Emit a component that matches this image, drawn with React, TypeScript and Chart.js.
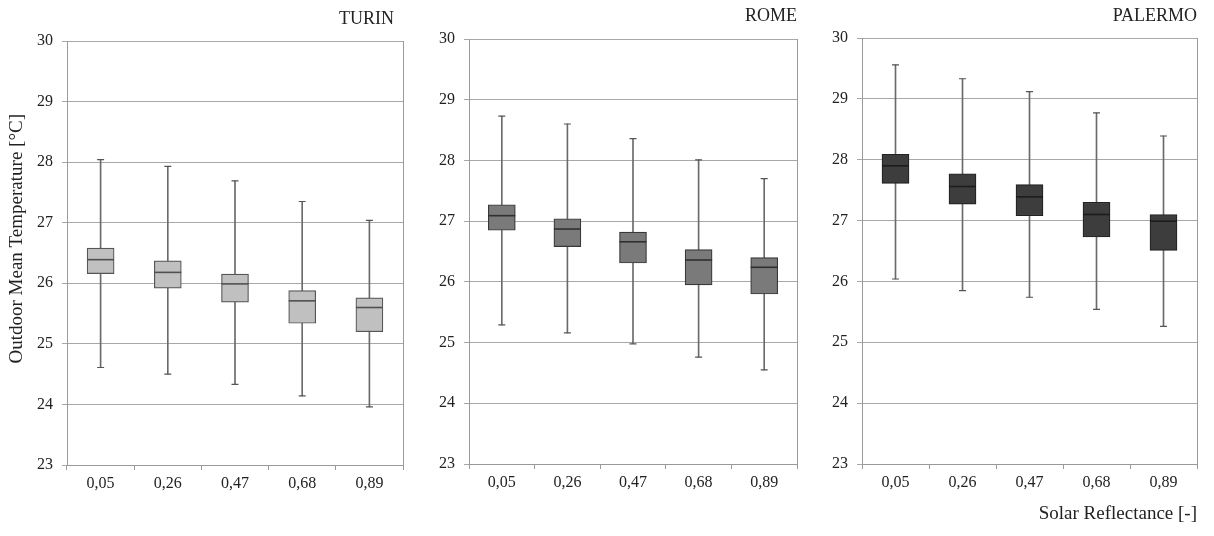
import React, { useEffect, useRef } from "react";
import { Chart, registerables } from "chart.js";

Chart.register(...registerables);

const categories = ["0,05", "0,26", "0,47", "0,68", "0,89"];

const turinMin = [24.61, 24.5, 24.33, 24.14, 23.96];
const turinQ1 = [26.16, 25.92, 25.69, 25.34, 25.2];
const turinMed = [26.39, 26.18, 25.99, 25.71, 25.6];
const turinQ3 = [26.58, 26.37, 26.15, 25.88, 25.76];
const turinMax = [28.04, 27.93, 27.69, 27.35, 27.04];

const romeMin = [25.29, 25.16, 24.98, 24.76, 24.55];
const romeQ1 = [26.85, 26.58, 26.31, 25.95, 25.8];
const romeMed = [27.09, 26.87, 26.66, 26.36, 26.24];
const romeQ3 = [27.27, 27.04, 26.82, 26.53, 26.4];
const romeMax = [28.73, 28.6, 28.36, 28.01, 27.7];

const palermoMin = [26.04, 25.85, 25.74, 25.54, 25.26];
const palermoQ1 = [27.61, 27.27, 27.08, 26.73, 26.51];
const palermoMed = [27.9, 27.56, 27.39, 27.1, 26.99];
const palermoQ3 = [28.09, 27.77, 27.59, 27.3, 27.1];
const palermoMax = [29.56, 29.33, 29.12, 28.77, 28.39];

const yMin = 23;
const yMax = 30;

const FONT = "'Liberation Serif', 'Times New Roman', serif";

type Panel = {
  title: string;
  min: number[];
  q1: number[];
  med: number[];
  q3: number[];
  max: number[];
  fill: string;
  border: string;
  medianColor: string;
  left: number;
  width: number;
  yWidth: number;
  xHeight: number;
  padRight: number;
  titlePad: { top: number; bottom: number };
  yTitle?: string;
  xTitle?: string;
};

const panels: Panel[] = [
  {
    title: "TURIN  ",
    min: turinMin, q1: turinQ1, med: turinMed, q3: turinQ3, max: turinMax,
    fill: "#c0c0c0", border: "#555555", medianColor: "#505050",
    left: 0, width: 420, yWidth: 67, xHeight: 71, padRight: 17,
    titlePad: { top: 8.5, bottom: 10.9 },
    yTitle: "      Outdoor Mean Temperature [°C]",
  },
  {
    title: "ROME",
    min: romeMin, q1: romeQ1, med: romeMed, q3: romeQ3, max: romeMax,
    fill: "#7a7a7a", border: "#383838", medianColor: "#303030",
    left: 410, width: 404, yWidth: 59, xHeight: 72, padRight: 17,
    titlePad: { top: 5.9, bottom: 11.5 },
  },
  {
    title: "PALERMO",
    min: palermoMin, q1: palermoQ1, med: palermoMed, q3: palermoQ3, max: palermoMax,
    fill: "#3d3d3d", border: "#222222", medianColor: "#1c1c1c",
    left: 804, width: 410, yWidth: 58, xHeight: 72, padRight: 17,
    titlePad: { top: 5.2, bottom: 11.2 },
    xTitle: "Solar Reflectance [-]",
  },
];

const HEIGHT = 536;

function BoxPanel({ p }: { p: Panel }) {
  const ref = useRef<HTMLCanvasElement | null>(null);
  useEffect(() => {
    if (!ref.current) return;
    const chart = new Chart(ref.current, {
      type: "bar",
      data: {
        labels: categories,
        datasets: [
          {
            type: "bar",
            data: categories.map((_, i) => [p.min[i], p.max[i]]) as any,
            backgroundColor: "#6a6a6a",
            borderWidth: 0,
            barThickness: 1,
            grouped: false,
            order: 4,
          } as any,
          {
            type: "bar",
            data: categories.map((_, i) => [p.q1[i], p.q3[i]]) as any,
            backgroundColor: p.fill,
            borderColor: p.border,
            borderWidth: 1.2,
            borderSkipped: false,
            barThickness: 27,
            grouped: false,
            order: 3,
          } as any,
          {
            type: "line",
            data: p.max,
            showLine: false,
            pointStyle: "line",
            pointRadius: 3.5,
            pointBorderWidth: 1.2,
            pointBorderColor: "#555555",
            order: 2,
          } as any,
          {
            type: "line",
            data: p.min,
            showLine: false,
            pointStyle: "line",
            pointRadius: 3.5,
            pointBorderWidth: 1.2,
            pointBorderColor: "#555555",
            order: 2,
          } as any,
          {
            type: "line",
            data: p.med,
            showLine: false,
            pointStyle: "line",
            pointRadius: 13.5,
            pointBorderWidth: 1.6,
            pointBorderColor: p.medianColor,
            order: 1,
          } as any,
        ],
      },
      options: {
        responsive: false,
        animation: false,
        events: [],
        devicePixelRatio: 1,
        layout: { padding: { left: 0, right: p.padRight, top: 0, bottom: 0 } },
        plugins: {
          legend: { display: false },
          tooltip: { enabled: false },
          title: {
            display: true,
            text: p.title,
            align: "end",
            color: "#222222",
            font: { family: FONT, size: 18, weight: "normal" },
            padding: p.titlePad,
          },
        },
        scales: {
          x: {
            type: "category",
            offset: true,
            grid: {
              display: true,
              offset: true,
              drawOnChartArea: false,
              drawTicks: true,
              tickLength: 5,
              color: "#9a9a9a",
            },
            border: { display: true, color: "#9a9a9a", width: 1 },
            ticks: {
              color: "#222222",
              font: { family: FONT, size: 16 },
              padding: 4,
              maxRotation: 0,
            },
            title: p.xTitle
              ? {
                  display: true,
                  text: p.xTitle,
                  align: "end",
                  color: "#222222",
                  font: { family: FONT, size: 19 },
                  padding: { top: 0, bottom: 11 },
                }
              : { display: false },
            afterFit: (s: any) => {
              s.height = p.xHeight;
            },
          },
          y: {
            type: "linear",
            min: yMin,
            max: yMax,
            ticks: {
              stepSize: 1,
              color: "#222222",
              font: { family: FONT, size: 16 },
              padding: 9,
            },
            grid: {
              color: "#a8a8a8",
              lineWidth: 1,
              tickLength: 5,
              drawTicks: true,
            },
            border: { display: true, color: "#9a9a9a", width: 1 },
            title: p.yTitle
              ? {
                  display: true,
                  text: p.yTitle,
                  color: "#222222",
                  font: { family: FONT, size: 19 },
                  padding: { top: 6, bottom: 0 },
                }
              : { display: false },
            afterFit: (s: any) => {
              s.width = p.yWidth;
            },
          },
          yR: {
            type: "linear",
            position: "right",
            min: yMin,
            max: yMax,
            ticks: { display: false },
            grid: { display: false, drawTicks: false },
            border: { display: true, color: "#9a9a9a", width: 1 },
            afterFit: (s: any) => {
              s.width = 0;
            },
          },
        },
      } as any,
    });
    return () => chart.destroy();
  }, []);
  return (
    <canvas
      ref={ref}
      width={p.width}
      height={HEIGHT}
      style={{
        position: "absolute",
        left: p.left,
        top: 0,
        width: p.width,
        height: HEIGHT,
      }}
    />
  );
}

export default function App() {
  useEffect(() => {
    document.body.style.margin = "0";
    document.body.style.background = "#ffffff";
  }, []);
  return (
    <div
      style={{
        position: "absolute",
        left: 0,
        top: 0,
        width: 1214,
        height: HEIGHT,
        background: "#ffffff",
        overflow: "hidden",
      }}
    >
      {panels.map((p) => (
        <BoxPanel key={p.title} p={p} />
      ))}
    </div>
  );
}
